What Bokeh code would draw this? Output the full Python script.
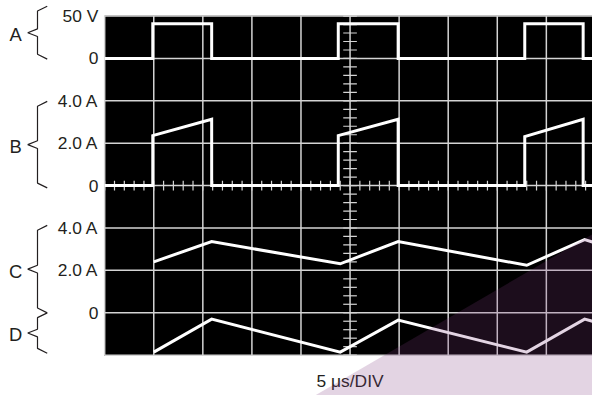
from bokeh.plotting import figure
from bokeh.models import Range1d
from bokeh.core.properties import value
from bokeh.embed import file_html
from bokeh.resources import INLINE

# ---------------- data ----------------
us_per_div = 5            # time base, µs per division
n_xdiv = 10
n_ydiv = 8

# switching events (µs)
t_on = [4.9, 23.8, 42.8]
t_off = [10.9, 29.9, 48.75]

# trace A: switch voltage (V)
a_high = 41.0
# trace B: switch current (A), ramp while on
b_start = [2.36, 2.36, 2.31]
b_end = [3.13, 3.13, 3.13]
# trace C: inductor current (A)
c_t = [5.0, 10.9, 24.0, 29.9, 43.0, 48.9, 49.7]
c_i = [2.40, 3.36, 2.31, 3.36, 2.24, 3.45, 3.34]
# trace D: ripple current (A)
d_t = [5.0, 10.9, 24.0, 29.9, 43.0, 48.9, 49.7]
d_i = [-1.86, -0.30, -1.86, -0.35, -1.86, -0.30, -0.40]

channels = ["A", "B", "C", "D"]
zero_div = {"A": 7, "B": 4, "C": 1, "D": 1}     # division of each channel's zero
per_div = {"A": 50.0, "B": 2.0, "C": 2.0, "D": 2.0}

tick_channels = ["A", "A", "B", "B", "B", "C", "C", "C"]
tick_values = [50, 0, 4.0, 2.0, 0, 4.0, 2.0, 0]
tick_labels = ["50 V", "0", "4.0 A", "2.0 A", "0", "4.0 A", "2.0 A", "0"]

# ---------------- layout ----------------
W, H = 592, 395           # figure size
RW, RH = 608, 411         # size of the reference layout mapped onto the figure
GX0, GY0 = 107, 369       # reference position of the screen's bottom-left corner
DX = 50.4 / us_per_div    # reference px per µs
DY = 44.1                 # reference px per division
S = (W / RW + H / RH) / 2


def px2x(px):
    return (px - GX0) / DX


def px2y(py):
    return (GY0 - py) / DY


def to_div(ch, v):
    return zero_div[ch] + v / per_div[ch]


def fs(px):
    return f"{px * S:.1f}px"


p = figure(width=W, height=H, output_backend="svg", toolbar_location=None,
           x_axis_type=None, y_axis_type=None,
           x_range=Range1d(px2x(0), px2x(RW)),
           y_range=Range1d(px2y(RH), px2y(0)))
p.min_border = 0
p.min_border_left = p.min_border_right = p.min_border_top = p.min_border_bottom = 0
p.outline_line_color = None
p.background_fill_color = "white"
p.border_fill_color = "white"

t_max = n_xdiv * us_per_div

# screen
p.quad(left=0, right=t_max, bottom=0, top=n_ydiv, color="black")

# graticule
gc = "#d4d4d4"
vx = [k * us_per_div for k in range(n_xdiv + 1)]
p.segment(x0=vx, y0=[0] * len(vx), x1=vx, y1=[n_ydiv] * len(vx), line_color=gc, line_width=1.5)
hy = list(range(n_ydiv + 1))
p.segment(x0=[0] * len(hy), y0=hy, x1=[t_max] * len(hy), y1=hy, line_color=gc, line_width=1.5)

# minor ticks on the centre axes (5 per division)
cx = t_max / 2
cy = n_ydiv / 2
ty = [j / 5 for j in range(n_ydiv * 5 + 1)]
hw = 7 / DX
p.segment(x0=[cx - hw] * len(ty), y0=ty, x1=[cx + hw] * len(ty), y1=ty, line_color=gc, line_width=1.2)
tx = [k * us_per_div / 5 for k in range(n_xdiv * 5 + 1)]
hh = 5 / DY
p.segment(x0=tx, y0=[cy - hh] * len(tx), x1=tx, y1=[cy + hh] * len(tx), line_color=gc, line_width=1.2)

# traces
ax, ay = [0.0], [0.0]
for on, off in zip(t_on, t_off):
    ax += [on, on, off, off]
    ay += [0.0, a_high, a_high, 0.0]
ax.append(t_max)
ay.append(0.0)

bx, by = [0.0], [0.0]
for on, off, s, e in zip(t_on, t_off, b_start, b_end):
    bx += [on, on, off, off]
    by += [0.0, s, e, 0.0]
bx.append(t_max)
by.append(0.0)

trace_style = dict(line_color="white", line_width=3, line_join="miter")
p.line(ax, [to_div("A", v) for v in ay], **trace_style)
p.line(bx, [to_div("B", v) for v in by], **trace_style)
p.line(c_t, [to_div("C", v) for v in c_i], **trace_style)
p.line(d_t, [to_div("D", v) for v in d_i], **trace_style)

# scale labels
font = value("Liberation Sans")
tcol = "#231f20"
p.text(x=[px2x(100.5)] * len(tick_labels),
       y=[to_div(c, v) for c, v in zip(tick_channels, tick_values)],
       text=tick_labels, text_font=font, text_font_size=fs(18),
       text_align="right", text_baseline="middle", text_color=tcol)

# channel braces and letters
def brace(top, bottom):
    mid = (top + bottom) / 2
    return ([48, 38, 38, 28, 38, 38, 48],
            [top, top + 5, mid - 4, mid, mid + 4, bottom - 5, bottom])

brace_spans = {"A": (6, 61), "B": (105, 195), "C": (234, 325), "D": (325, 367)}
for ch in channels:
    bxp, byp = brace(*brace_spans[ch])
    p.line([px2x(v) for v in bxp], [px2y(v) for v in byp], line_color=tcol, line_width=1.2)

letter_y = [px2y((brace_spans[ch][0] + brace_spans[ch][1]) / 2 + 2) for ch in channels]
p.text(x=[px2x(15.5)] * 4, y=letter_y, text=channels, text_font=font,
       text_font_size=fs(19), text_align="center", text_baseline="middle", text_color=tcol)

# time-base caption
p.text(x=[t_max / 2], y=[px2y(396)], text=[f"{us_per_div} \u03bcs/DIV"], text_font=font,
       text_font_size=fs(18), text_align="center", text_baseline="middle", text_color=tcol)

# decorative purple wedge in the lower right corner
wx0, wy0 = px2x(323) - 7.8, px2y(411) - 1.05
wx1 = px2x(700)
p.patch([wx0, wx1, wx1], [wy0, wy0, wy0 + (wx1 - wx0) * 0.1346],
        fill_color="#7f3b7f", fill_alpha=0.22, line_color=None)

open("out.html", "w").write(file_html(p, INLINE))
